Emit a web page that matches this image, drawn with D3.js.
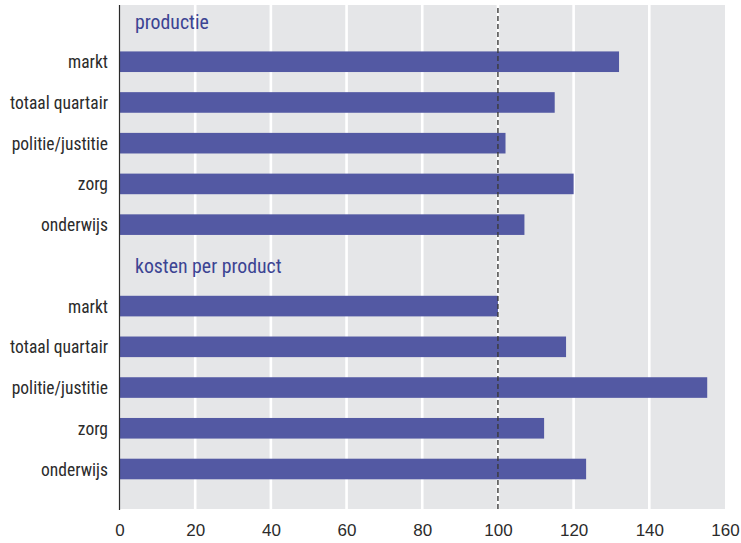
<!DOCTYPE html>
<html><head><meta charset="utf-8">
<script src="https://cdn.jsdelivr.net/npm/d3@7"></script>
<style>
body{margin:0;background:#fff;}
svg text{font-family:"Liberation Sans Narrow","Arial Narrow","Roboto Condensed",sans-serif;}
</style></head>
<body><svg id="c" width="741" height="543"></svg>
<script>
const groups = ["productie", "kosten per product"];
const categories = ["markt", "totaal quartair", "politie/justitie", "zorg", "onderwijs"];
const productie = [132, 115, 102, 120, 107];
const kostenPerProduct = [100, 118, 155.3, 112.2, 123.3];
const xTicks = [0, 20, 40, 60, 80, 100, 120, 140, 160];
const refValue = 100;

const rows = [];
[productie, kostenPerProduct].forEach((vals, g) => {
  rows.push({type: "header", label: groups[g]});
  categories.forEach((c, i) => rows.push({type: "bar", label: c, value: vals[i]}));
});

const svg = d3.select("#c");
const pL = 119.5, pR = 725, pT = 5, pB = 509;
const x = d3.scaleLinear().domain([0, 160]).range([pL, pR]);
const y = d3.scaleLinear().domain([0, rows.length - 1]).range([21, 469]);
const barH = 20.6;

svg.append("rect").attr("x", pL).attr("y", pT).attr("width", pR - pL).attr("height", pB - pT).attr("fill", "#e5e6e8");

svg.append("g").selectAll("line").data(xTicks.filter(t => t > 0 && t < 160)).join("line")
  .attr("x1", d => x(d)).attr("x2", d => x(d)).attr("y1", pT).attr("y2", pB)
  .attr("stroke", "#fff").attr("stroke-width", 2.6);

svg.append("g").selectAll("rect").data(rows.filter(r => r.type === "bar")).join("rect")
  .attr("x", x(0)).attr("y", d => y(rows.indexOf(d)) - barH / 2)
  .attr("width", d => x(d.value) - x(0)).attr("height", barH).attr("fill", "#5359a3");

svg.append("line").attr("x1", x(refValue)).attr("x2", x(refValue)).attr("y1", pT + 3).attr("y2", pB)
  .attr("stroke", "#3a3a3a").attr("stroke-width", 1.4).attr("stroke-dasharray", "5,3");

svg.append("line").attr("x1", pL).attr("x2", pL).attr("y1", pT).attr("y2", pB + 1)
  .attr("stroke", "#2a2a2a").attr("stroke-width", 1.2);

svg.append("g").selectAll("text").data(rows).join("text")
  .attr("x", d => d.type === "bar" ? 108 : 135)
  .attr("y", (d, i) => y(i) + (d.type === "bar" ? 6.5 : 7.5))
  .attr("text-anchor", d => d.type === "bar" ? "end" : "start")
  .attr("font-size", d => d.type === "bar" ? 17.5 : 19.8)
  .attr("fill", d => d.type === "bar" ? "#2b2b2b" : "#3c4493")
  .text(d => d.label);

const xAxis = d3.axisBottom(x).tickValues(xTicks).tickSize(0).tickPadding(0);
const ax = svg.append("g").attr("transform", `translate(0,${pB})`).call(xAxis);
ax.select(".domain").remove();
ax.selectAll("text").attr("font-size", 17).attr("fill", "#2b2b2b").attr("dy", "1.0em").attr("y", 10)
  .style("font-family", '"Liberation Sans Narrow","Arial Narrow",sans-serif');
</script></body></html>
